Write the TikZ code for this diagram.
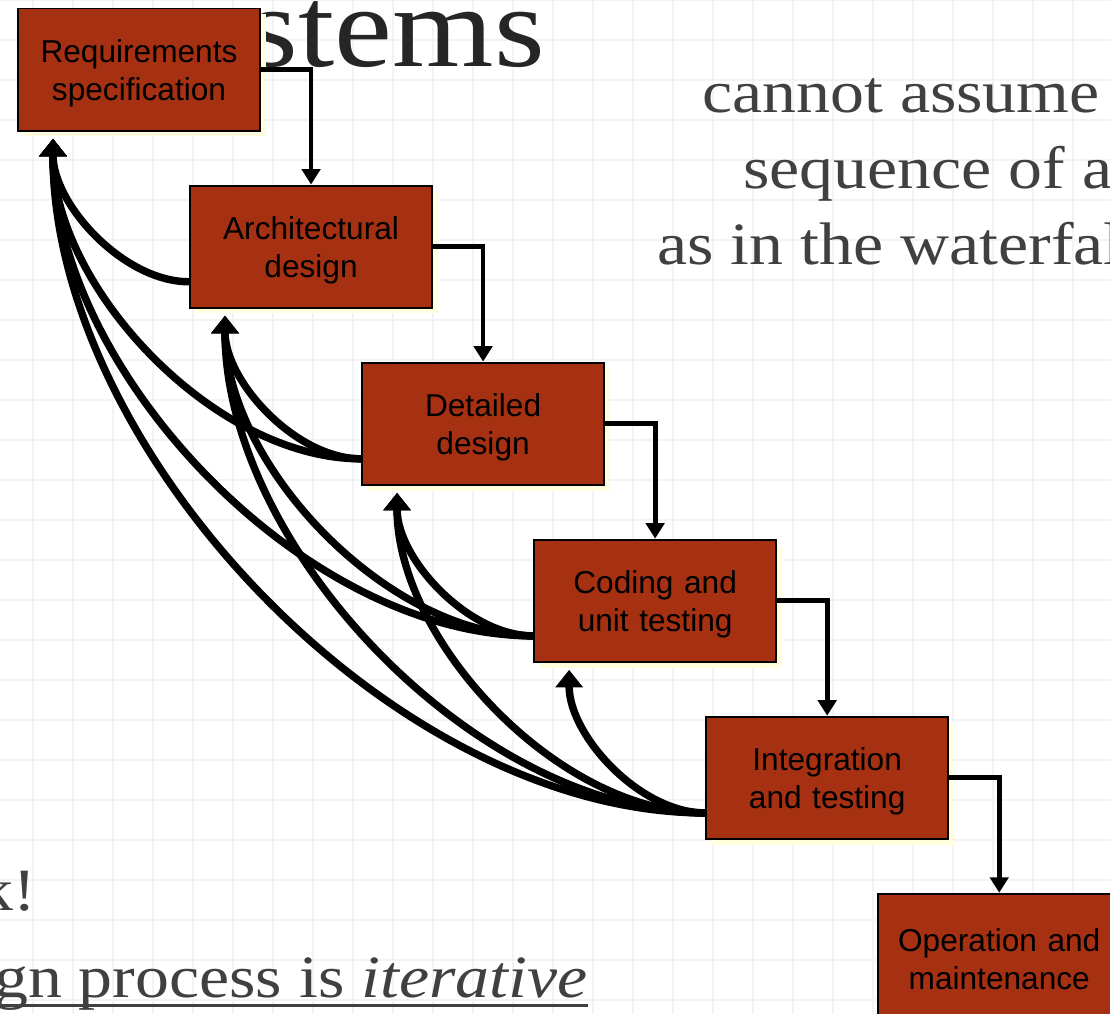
\documentclass[tikz,border=0pt]{standalone}
\usepackage{fontspec}
\setsansfont{Liberation Sans}
\newfontfamily\slidefont[FakeStretch=1.13]{Liberation Serif}
\usetikzlibrary{arrows.meta,shadows}
\definecolor{stagered}{RGB}{166,48,18}
\definecolor{shadowyellow}{RGB}{255,255,222}
\definecolor{slidetext}{RGB}{64,64,64}
\definecolor{gridgray}{RGB}{243,243,243}
\tikzstyle{stage} = [rectangle, draw, line width=1.4pt, fill=stagered,
  text width=5.7cm, align=center, minimum width=6.05cm, minimum height=3.05cm,
  font=\sffamily\fontsize{22.5}{27}\selectfont,
  execute at begin node={\rule{0pt}{22pt}},
  drop shadow={fill=shadowyellow, opacity=1, shadow xshift=4.2pt, shadow yshift=-4.2pt}]
\tikzstyle{slide} = [inner sep=0pt, text=slidetext,
  font=\slidefont\fontsize{42.7}{54}\selectfont]
\tikzstyle{line} = [draw, -{Triangle[length=11pt,width=13pt]}, line width=3.4pt]
\tikzstyle{back} = [draw, -{Triangle[length=12.5pt,width=19pt]}, line width=5.3pt,
  looseness=0.85]

\begin{document}
\begin{tikzpicture}[x=0.025cm, y=-0.025cm, node distance=4.425cm]
    \useasboundingbox (0,0) rectangle (1110,1013);
    \clip (0,0) rectangle (1110,1013);
    \fill[white] (0,0) rectangle (1110,1013);
    \draw[gridgray, line width=1.3pt, xshift=0.825cm, step=1cm] (-1cm,-26cm) grid (27cm,0.5cm);

    % slide text behind the diagram
    \node[slide, anchor=base east, text=black!85, font=\slidefont\fontsize{82}{82}\selectfont] (title) at (545,66) {systems};
    \node[slide, anchor=base west] (lineA) at (702,112) {cannot assume};
    \node[slide, anchor=base west] (lineB) at (743,188) {sequence of a};
    \node[slide, anchor=base west] (lineC) at (657,264) {as in the waterfall};
    \node[slide, anchor=base east] (lineD) at (36,910) {k!};
    \node[slide, anchor=base east] (lineE) at (588,997) {gn process is \textit{iterative}};
    \draw[slidetext, line width=2.2pt] ([yshift=-0.22cm]lineE.base west) -- ([yshift=-0.22cm]lineE.base east);

    \node[stage] (req) at (139,69.5) {Requirements\\specification};
    \node[stage, below of=req, xshift=4.3cm] (arch) {Architectural\\design};
    \node[stage, below of=arch, xshift=4.3cm] (det) {Detailed\\design};
    \node[stage, below of=det, xshift=4.3cm] (code) {Coding and\\unit testing};
    \node[stage, below of=code, xshift=4.3cm] (integ) {Integration\\and testing};
    \node[stage, below of=integ, xshift=4.3cm] (ops) {Operation and\\maintenance};

    % where the feedback arrows leave and arrive
    \coordinate (archout) at ([yshift=-0.88cm]arch.west);
    \coordinate (detout) at ([yshift=-0.88cm]det.west);
    \coordinate (codeout) at ([yshift=-0.88cm]code.west);
    \coordinate (integout) at ([yshift=-0.88cm]integ.west);
    \coordinate (reqin) at ([shift={(0.9cm,-0.18cm)}]req.south west);
    \coordinate (archin) at ([shift={(0.9cm,-0.18cm)}]arch.south west);
    \coordinate (detin) at ([shift={(0.9cm,-0.18cm)}]det.south west);
    \coordinate (codein) at ([shift={(0.9cm,-0.18cm)}]code.south west);

    \path[line] (req.east) -| (arch.north);
    \path[line] (arch.east) -| (det.north);
    \path[line] (det.east) -| (code.north);
    \path[line] (code.east) -| (integ.north);
    \path[line] (integ.east) -| (ops.north);

    \path[back] (archout) to[out=180, in=-90] (reqin);
    \path[back] (detout) to[out=180, in=-90] (reqin);
    \path[back] (detout) to[out=180, in=-90] (archin);
    \path[back] (codeout) to[out=180, in=-90] (reqin);
    \path[back] (codeout) to[out=180, in=-90] (archin);
    \path[back] (codeout) to[out=180, in=-90] (detin);
    \path[back] (integout) to[out=180, in=-90] (reqin);
    \path[back] (integout) to[out=180, in=-90] (archin);
    \path[back] (integout) to[out=180, in=-90] (detin);
    \path[back] (integout) to[out=180, in=-90] (codein);
\end{tikzpicture}
\end{document}
